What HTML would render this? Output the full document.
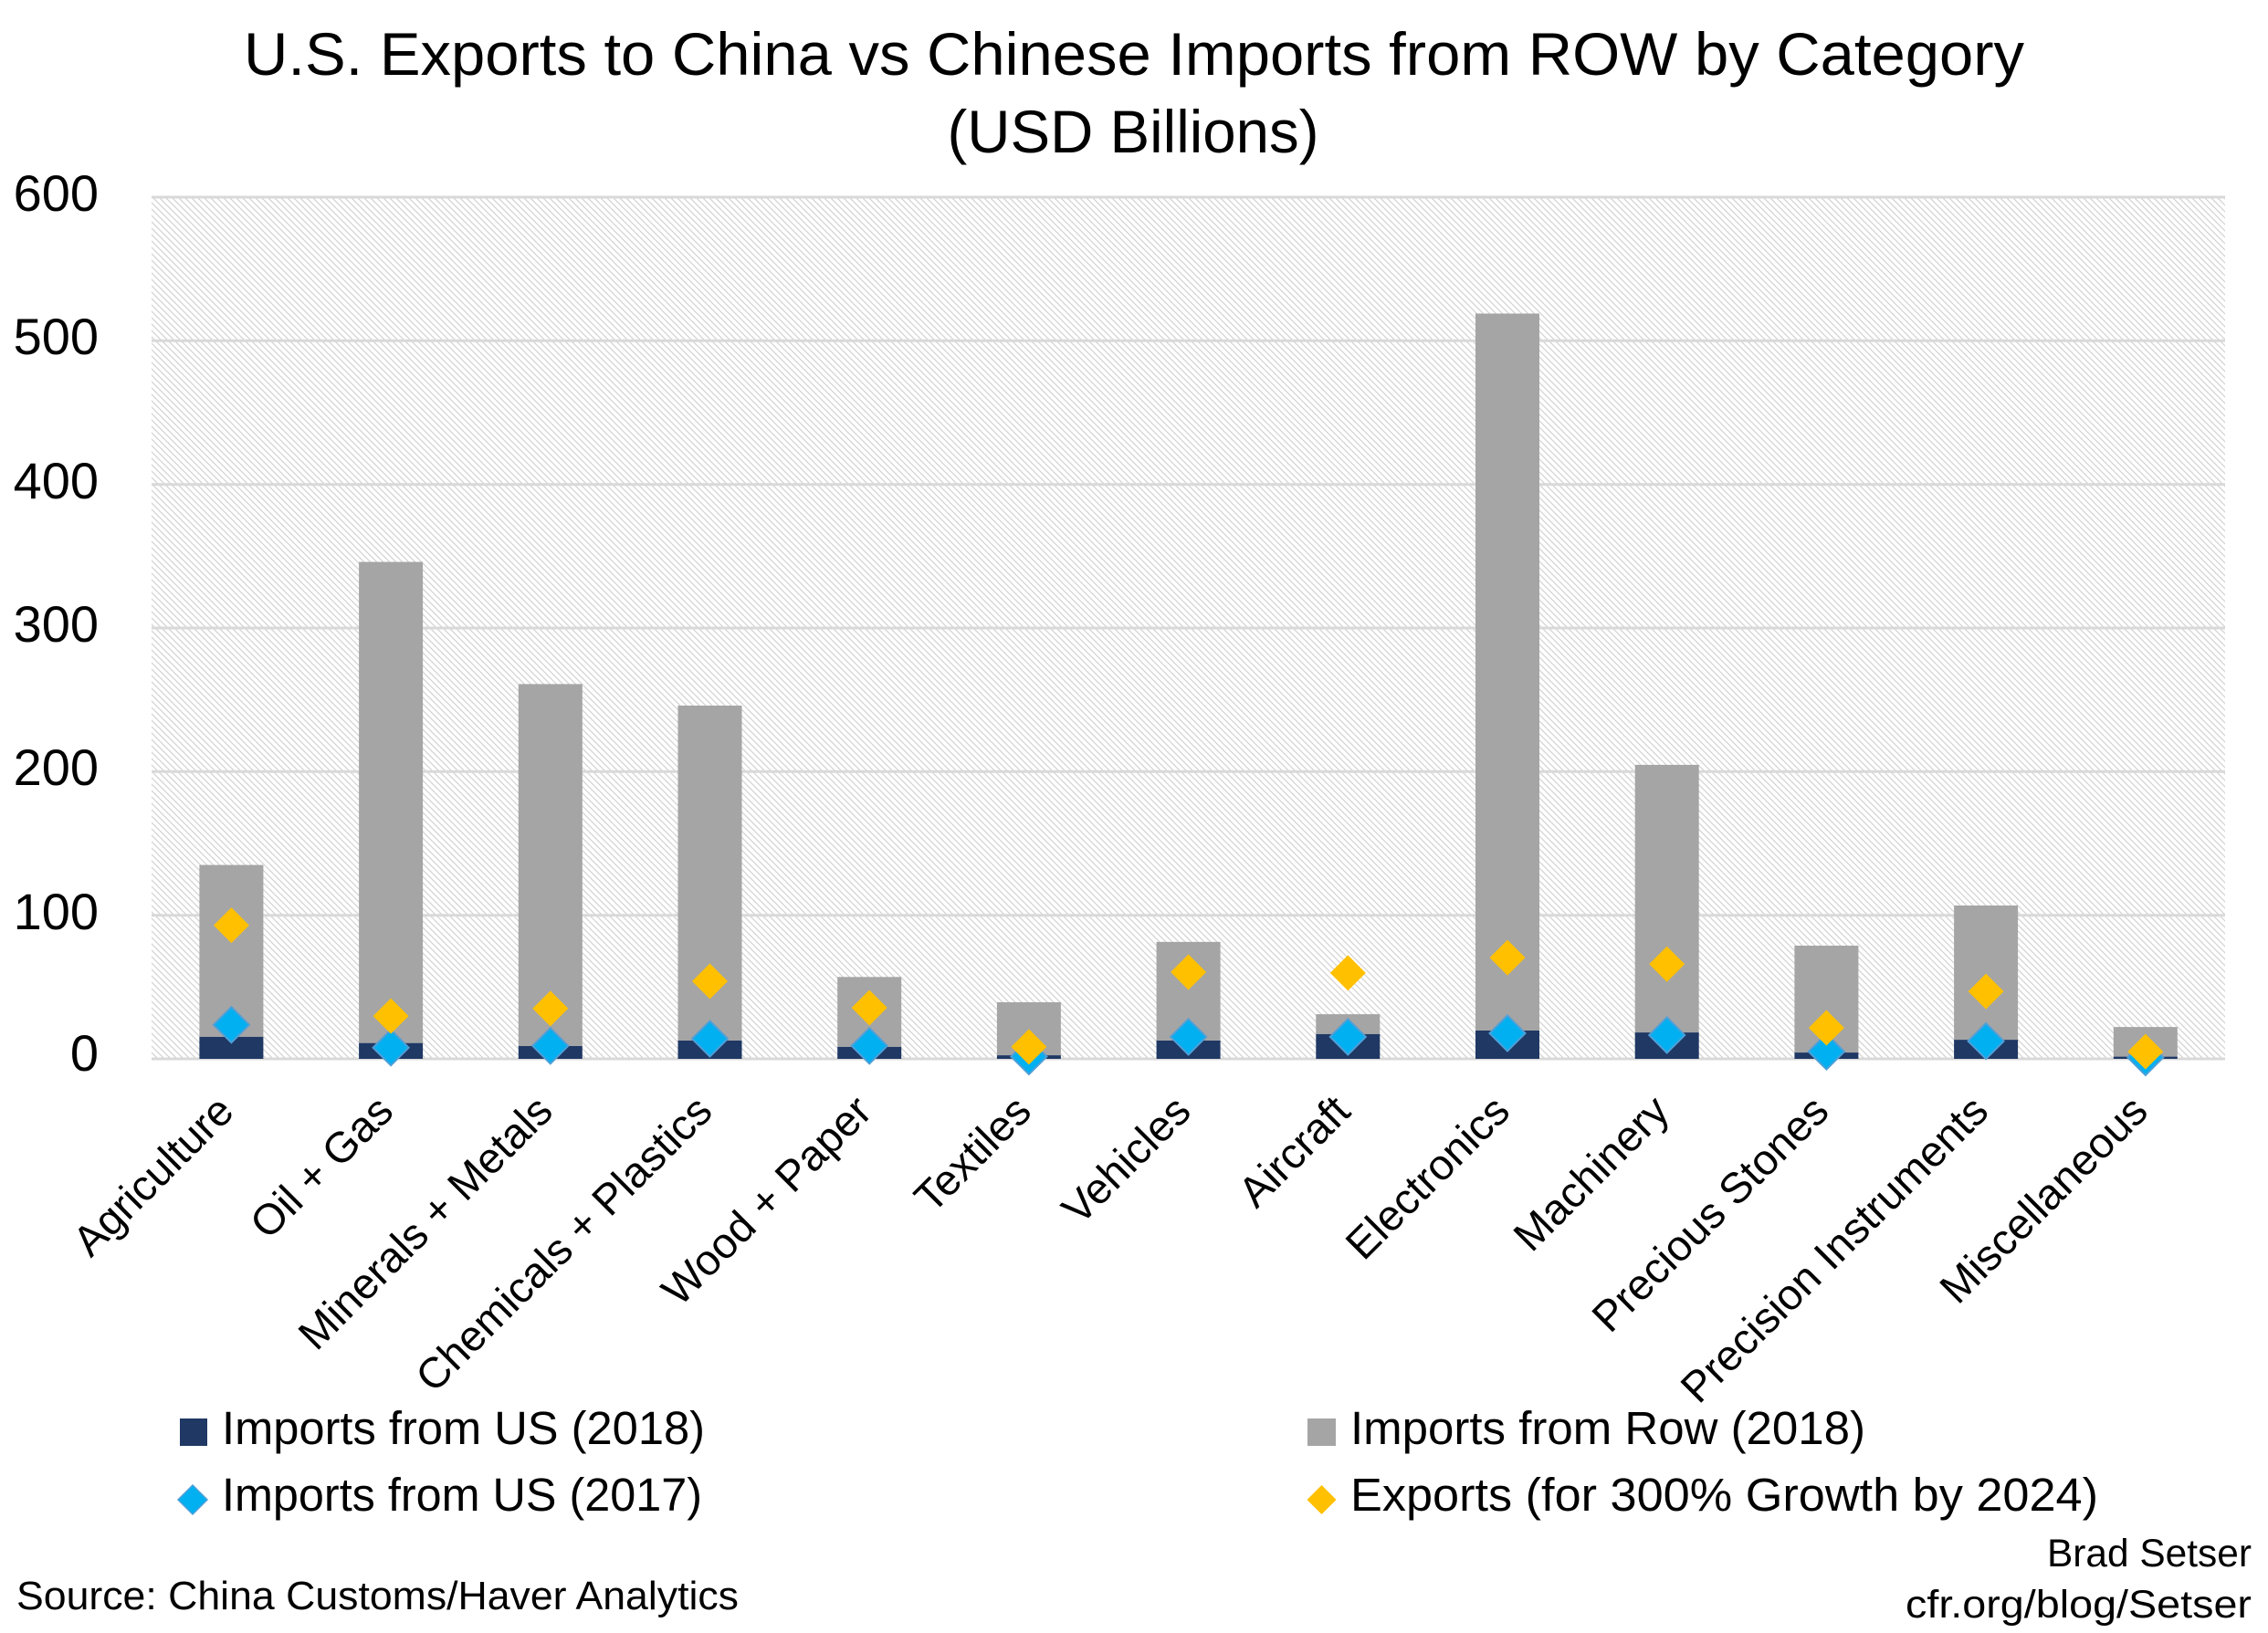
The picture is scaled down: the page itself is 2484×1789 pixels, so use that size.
<!DOCTYPE html>
<html>
<head>
<meta charset="utf-8">
<style>
html,body{margin:0;padding:0;background:#fff;}
svg{display:block;}
text{font-family:"Liberation Sans",Arial,sans-serif;fill:#000;}
</style>
</head>
<body>
<svg width="2484" height="1789" viewBox="0 0 2484 1789" xmlns="http://www.w3.org/2000/svg" xmlns:xlink="http://www.w3.org/1999/xlink">
<defs>
<pattern id="hatch" patternUnits="userSpaceOnUse" width="7" height="7">
<rect width="7" height="7" fill="#ffffff"/>
<path d="M-1,-1 L8,8 M-1,6 L1,8 M6,-1 L8,1" stroke="#d4d4d4" stroke-width="1.3"/>
</pattern>
<polygon id="dB" points="0,-19.5 19.5,0 0,19.5 -19.5,0" fill="#00b0f0" stroke="#4f9fd8" stroke-width="2"/>
<polygon id="dO" points="0,-19.5 19.5,0 0,19.5 -19.5,0" fill="#ffc000"/>
</defs>

<!-- Title -->
<text x="1242" y="82" font-size="66" text-anchor="middle" textLength="1950" lengthAdjust="spacingAndGlyphs">U.S. Exports to China vs Chinese Imports from ROW by Category</text>
<text x="1241" y="167" font-size="66" text-anchor="middle" textLength="407" lengthAdjust="spacingAndGlyphs">(USD Billions)</text>

<!-- Plot background -->
<rect x="166" y="216" width="2271" height="944" fill="url(#hatch)"/>

<!-- Gridlines -->
<g stroke="#d9d9d9" stroke-width="3">
<line x1="166" y1="216" x2="2437" y2="216"/>
<line x1="166" y1="373.3" x2="2437" y2="373.3"/>
<line x1="166" y1="530.7" x2="2437" y2="530.7"/>
<line x1="166" y1="688" x2="2437" y2="688"/>
<line x1="166" y1="845.3" x2="2437" y2="845.3"/>
<line x1="166" y1="1002.7" x2="2437" y2="1002.7"/>
<line x1="166" y1="1160" x2="2437" y2="1160"/>
</g>

<!-- Y axis labels -->
<g font-size="56" text-anchor="end">
<text x="108" y="231">600</text>
<text x="108" y="388">500</text>
<text x="108" y="546">400</text>
<text x="108" y="703">300</text>
<text x="108" y="860">200</text>
<text x="108" y="1018">100</text>
<text x="108" y="1173">0</text>
</g>

<!-- Gray bars (ROW) -->
<g fill="#a5a5a5">
<rect x="218.4" y="947.6" width="70" height="188.3"/>
<rect x="393.1" y="615.6" width="70" height="527.1"/>
<rect x="567.8" y="749.4" width="70" height="396.6"/>
<rect x="742.5" y="773.0" width="70" height="367.0"/>
<rect x="917.2" y="1070.3" width="70" height="76.6"/>
<rect x="1091.9" y="1098.0" width="70" height="58.1"/>
<rect x="1266.6" y="1031.9" width="70" height="108.1"/>
<rect x="1441.3" y="1111.1" width="70" height="21.8"/>
<rect x="1616.0" y="343.5" width="70" height="785.5"/>
<rect x="1790.7" y="837.9" width="70" height="293.2"/>
<rect x="1965.4" y="1036.0" width="70" height="117.1"/>
<rect x="2140.1" y="992.0" width="70" height="147.1"/>
<rect x="2314.8" y="1125.1" width="70" height="32.5"/>
</g>

<!-- Navy bars (US 2018) -->
<g fill="#1f3864">
<rect x="218.4" y="1135.9" width="70" height="24.1"/>
<rect x="393.1" y="1142.7" width="70" height="17.3"/>
<rect x="567.8" y="1146.0" width="70" height="14.0"/>
<rect x="742.5" y="1140.0" width="70" height="20.0"/>
<rect x="917.2" y="1146.9" width="70" height="13.1"/>
<rect x="1091.9" y="1156.1" width="70" height="3.9"/>
<rect x="1266.6" y="1140.0" width="70" height="20.0"/>
<rect x="1441.3" y="1132.9" width="70" height="27.1"/>
<rect x="1616.0" y="1129.0" width="70" height="31.0"/>
<rect x="1790.7" y="1131.1" width="70" height="28.9"/>
<rect x="1965.4" y="1153.1" width="70" height="6.9"/>
<rect x="2140.1" y="1139.1" width="70" height="20.9"/>
<rect x="2314.8" y="1157.6" width="70" height="2.4"/>
</g>

<!-- Blue diamonds (US 2017) -->
<use xlink:href="#dB" href="#dB" x="253.4" y="1122.7"/>
<use xlink:href="#dB" href="#dB" x="428.1" y="1147.7"/>
<use xlink:href="#dB" href="#dB" x="602.8" y="1145.8"/>
<use xlink:href="#dB" href="#dB" x="777.5" y="1138.0"/>
<use xlink:href="#dB" href="#dB" x="952.2" y="1145.8"/>
<use xlink:href="#dB" href="#dB" x="1126.9" y="1157.5"/>
<use xlink:href="#dB" href="#dB" x="1301.6" y="1135.9"/>
<use xlink:href="#dB" href="#dB" x="1476.3" y="1135.9"/>
<use xlink:href="#dB" href="#dB" x="1651.0" y="1132.0"/>
<use xlink:href="#dB" href="#dB" x="1825.7" y="1134.0"/>
<use xlink:href="#dB" href="#dB" x="2000.4" y="1152.1"/>
<use xlink:href="#dB" href="#dB" x="2175.1" y="1140.6"/>
<use xlink:href="#dB" href="#dB" x="2349.8" y="1158.4"/>

<!-- Orange diamonds (Exports target) -->
<use xlink:href="#dO" href="#dO" x="253.4" y="1013.7"/>
<use xlink:href="#dO" href="#dO" x="428.1" y="1113.1"/>
<use xlink:href="#dO" href="#dO" x="602.8" y="1104.9"/>
<use xlink:href="#dO" href="#dO" x="777.5" y="1075.0"/>
<use xlink:href="#dO" href="#dO" x="952.2" y="1104.0"/>
<use xlink:href="#dO" href="#dO" x="1126.9" y="1146.9"/>
<use xlink:href="#dO" href="#dO" x="1301.6" y="1065.0"/>
<use xlink:href="#dO" href="#dO" x="1476.3" y="1065.9"/>
<use xlink:href="#dO" href="#dO" x="1651.0" y="1049.1"/>
<use xlink:href="#dO" href="#dO" x="1825.7" y="1056.2"/>
<use xlink:href="#dO" href="#dO" x="2000.4" y="1126.0"/>
<use xlink:href="#dO" href="#dO" x="2175.1" y="1086.1"/>
<use xlink:href="#dO" href="#dO" x="2349.8" y="1152.1"/>

<!-- X labels -->
<g font-size="47" text-anchor="end">
<text x="258.4" y="1220" transform="rotate(-45 258.4 1220)">Agriculture</text>
<text x="433.1" y="1220" transform="rotate(-45 433.1 1220)">Oil + Gas</text>
<text x="607.8" y="1220" transform="rotate(-45 607.8 1220)">Minerals + Metals</text>
<text x="782.5" y="1220" transform="rotate(-45 782.5 1220)">Chemicals + Plastics</text>
<text x="957.2" y="1220" transform="rotate(-45 957.2 1220)">Wood + Paper</text>
<text x="1131.9" y="1220" transform="rotate(-45 1131.9 1220)">Textiles</text>
<text x="1306.6" y="1220" transform="rotate(-45 1306.6 1220)">Vehicles</text>
<text x="1481.3" y="1220" transform="rotate(-45 1481.3 1220)">Aircraft</text>
<text x="1656.0" y="1220" transform="rotate(-45 1656.0 1220)">Electronics</text>
<text x="1830.7" y="1220" transform="rotate(-45 1830.7 1220)">Machinery</text>
<text x="2005.4" y="1220" transform="rotate(-45 2005.4 1220)">Precious Stones</text>
<text x="2180.1" y="1220" transform="rotate(-45 2180.1 1220)">Precision Instruments</text>
<text x="2354.8" y="1220" transform="rotate(-45 2354.8 1220)">Miscellaneous</text>
</g>

<!-- Legend -->
<rect x="197" y="1554" width="30" height="30" fill="#1f3864"/>
<text x="243" y="1582" font-size="51" textLength="529" lengthAdjust="spacingAndGlyphs">Imports from US (2018)</text>
<rect x="1432" y="1554" width="31" height="30" fill="#a5a5a5"/>
<text x="1479" y="1582" font-size="51" textLength="564" lengthAdjust="spacingAndGlyphs">Imports from Row (2018)</text>
<polygon points="211,1627 227,1643 211,1659 195,1643" fill="#00b0f0" stroke="#4f9fd8" stroke-width="1.5"/>
<text x="243" y="1655" font-size="51" textLength="526" lengthAdjust="spacingAndGlyphs">Imports from US (2017)</text>
<polygon points="1447.5,1627 1463.5,1643 1447.5,1659 1431.5,1643" fill="#ffc000"/>
<text x="1479" y="1655" font-size="51" textLength="819" lengthAdjust="spacingAndGlyphs">Exports (for 300% Growth by 2024)</text>

<!-- Source -->
<text x="18" y="1763" font-size="44" textLength="791" lengthAdjust="spacingAndGlyphs">Source: China Customs/Haver Analytics</text>
<text x="2466" y="1716" font-size="43" text-anchor="end" textLength="224" lengthAdjust="spacingAndGlyphs">Brad Setser</text>
<text x="2466" y="1772" font-size="43" text-anchor="end" textLength="379" lengthAdjust="spacingAndGlyphs">cfr.org/blog/Setser</text>
</svg>
</body>
</html>
